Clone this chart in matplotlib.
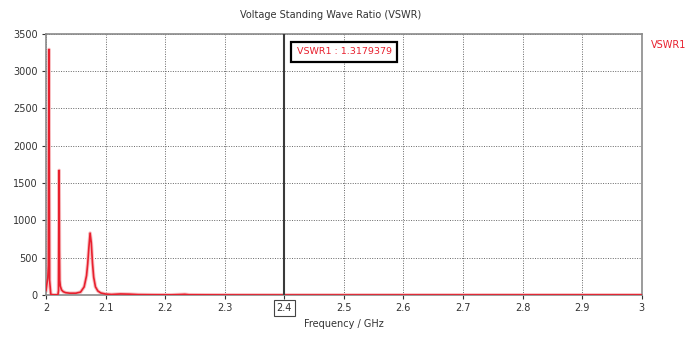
import matplotlib
matplotlib.use("Agg")
import matplotlib.pyplot as plt

# ── data ────────────────────────────────────────────────────────────────────
freq_ghz = [2.000, 2.002, 2.003, 2.0040, 2.0045, 2.0050, 2.0055, 2.0060, 2.008,
            2.012, 2.016, 2.020, 2.0210, 2.0215, 2.0220, 2.0225, 2.0230, 2.024,
            2.026, 2.029, 2.033, 2.040, 2.050, 2.058, 2.064, 2.068, 2.070,
            2.072, 2.074, 2.076, 2.078, 2.080, 2.083, 2.087, 2.092, 2.100,
            2.110, 2.125, 2.140, 2.155, 2.180, 2.210, 2.228, 2.233, 2.240,
            2.300, 2.400, 2.500, 2.600, 2.700, 2.800, 2.900, 3.000]
vswr = [60, 180, 230, 400, 1900, 3290, 1400, 200, 10,
        3, 3, 5, 60, 900, 1670, 600, 200, 120,
        70, 45, 32, 25, 25, 40, 110, 260, 420,
        640, 830, 700, 430, 240, 110, 55, 28, 14,
        8, 15, 12, 6, 4, 3, 8, 10, 4,
        2, 1.32, 1.4, 1.6, 1.8, 2.0, 2.2, 2.4]

xticks = [2, 2.1, 2.2, 2.3, 2.4, 2.5, 2.6, 2.7, 2.8, 2.9, 3]
xtick_labels = ["2", "2.1", "2.2", "2.3", "2.4", "2.5", "2.6", "2.7", "2.8", "2.9", "3"]
yticks = [0, 500, 1000, 1500, 2000, 2500, 3000, 3500]
marker_f = 2.4
marker_text = "VSWR1 : 1.3179379"

C_RED = "#e8202e"
C_GRID = "#666666"
C_TXT = "#333333"

plt.rcParams["font.family"] = ["DejaVu Sans"]

fig = plt.figure(figsize=(6.91, 3.38), dpi=100)
fig.patch.set_facecolor("white")
ax = fig.add_axes([0.0666, 0.127, 0.862, 0.773])

# faint highlight under the trace, then the trace itself
ax.plot(freq_ghz, vswr, color="#f7c0c3", lw=2.6, zorder=2)
ax.plot(freq_ghz, vswr, color=C_RED, lw=1.2, zorder=3)

ax.set_xlim(2, 3)
ax.set_ylim(0, 3500)
ax.set_xticks(xticks)
ax.set_xticklabels(xtick_labels)
ax.set_yticks(yticks)
ax.tick_params(axis="both", labelsize=7, colors=C_TXT, length=3, width=0.8, pad=3)
ax.grid(True, linestyle=(0, (1, 1.5)), color=C_GRID, lw=0.7)

for sp in ax.spines.values():
    sp.set_color("#8a8a8a")
    sp.set_linewidth(1.2)

# marker line
ax.axvline(marker_f, color="#3a3a3a", lw=1.5, zorder=4)
ax.text(marker_f + 0.021, 3260, marker_text, ha="left", va="center",
        fontsize=6.8, color=C_RED, zorder=5,
        bbox=dict(boxstyle="square,pad=0.6", fc="white", ec="black", lw=1.6))

# boxed marker tick label
for lbl in ax.get_xticklabels():
    if lbl.get_text() == "2.4":
        lbl.set_bbox(dict(boxstyle="square,pad=0.3", fc="white", ec="#444444", lw=0.8))

ax.set_xlabel("Frequency / GHz", fontsize=7, color=C_TXT, labelpad=4)
fig.text(0.478, 0.955, "Voltage Standing Wave Ratio (VSWR)", ha="center",
         va="center", fontsize=7, color=C_TXT)
fig.text(0.967, 0.866, "VSWR1", ha="center", va="center", fontsize=7, color=C_RED)

fig.savefig("out.png", dpi=100, facecolor="white")
plt.close(fig)
